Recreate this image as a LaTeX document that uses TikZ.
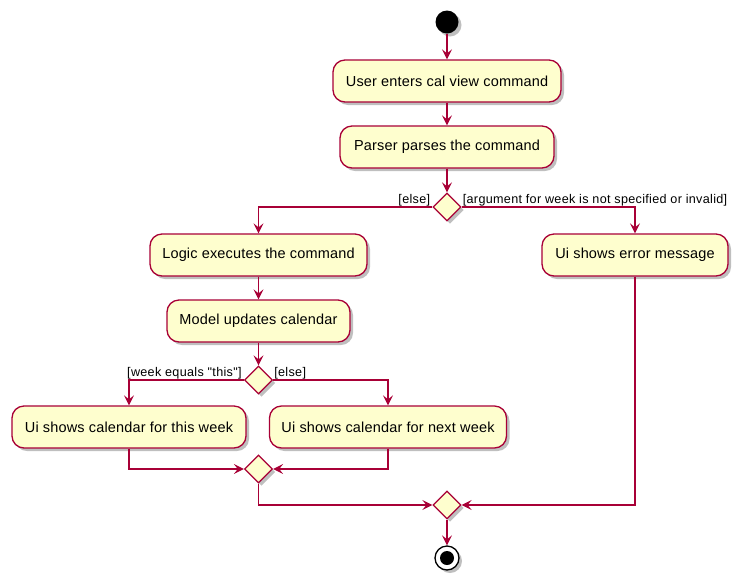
\documentclass[tikz,border=0pt]{standalone}
\usepackage{fontspec}
\setmainfont{Liberation Sans}
\newfontfamily\boxfont[LetterSpace=1.2]{Liberation Sans}
\newfontfamily\lblfont[LetterSpace=2.5]{Liberation Sans}
\usetikzlibrary{arrows.meta,shapes.geometric,shadows}
\definecolor{umlred}{HTML}{A80036}
\definecolor{umlfill}{HTML}{FEFECE}
\tikzset{
  shd/.style={drop shadow={shadow xshift=3pt,shadow yshift=-3pt,fill=black,opacity=0.25}},
  act/.style={draw=umlred,fill=umlfill,line width=1.3pt,rounded corners=12pt,minimum height=42pt,inner xsep=0pt,font=\boxfont\fontsize{14.5}{16}\selectfont,shd},
  dec/.style={diamond,draw=umlred,fill=umlfill,line width=1.3pt,minimum width=28pt,minimum height=28pt,inner sep=0pt,shd},
  flow/.style={draw=umlred,line width=1.3pt,-{Stealth[length=10pt,width=10pt,inset=4pt]}},
  lbl/.style={font=\lblfont\fontsize{12.6}{14}\selectfont,inner sep=0pt}
}
\begin{document}
\begin{tikzpicture}[x=1pt,y=1pt]
\path[use as bounding box] (0,0) rectangle (742,-582);
\node[circle,fill=black,minimum size=23pt,inner sep=0pt,shd] (start) at (447,-22) {};
\node[act,minimum width=228pt] (user) at (447,-81) {User enters cal view command};
\node[act,minimum width=214pt] (parse) at (447,-147) {Parser parses the command};
\node[dec] (d1) at (447,-207) {};
\node[act,minimum width=217pt] (logic) at (258.5,-255) {Logic executes the command};
\node[act,minimum width=186pt] (err) at (635,-255) {Ui shows error message};
\node[act,minimum width=183pt] (model) at (258.5,-321) {Model updates calendar};
\node[dec] (d2) at (258.5,-380) {};
\node[act,minimum width=234pt] (this) at (129,-427) {Ui shows calendar for this week};
\node[act,minimum width=237pt] (next) at (388,-427) {Ui shows calendar for next week};
\node[dec] (m2) at (258.5,-469) {};
\node[dec] (m1) at (447,-505) {};
\node[circle,draw=black,fill=white,line width=1.3pt,minimum size=24pt,inner sep=0pt,shd] (stop) at (447,-558) {};
\node[circle,fill=black,minimum size=14pt,inner sep=0pt] (stopin) at (stop) {};

\draw[flow] (start) -- (user);
\draw[flow] (user) -- (parse);
\draw[flow] (parse) -- (d1);
\draw[flow] (d1.west) -| (logic.north);
\draw[flow] (d1.east) -| (err.north);
\node[lbl,anchor=base east] (l1) at ([xshift=-2pt,yshift=4pt]d1.west) {[else]};
\node[lbl,anchor=base west] (l2) at ([xshift=1pt,yshift=4pt]d1.east) {[argument for week is not specified or invalid]};
\draw[flow] (logic) -- (model);
\draw[flow] (model) -- (d2);
\draw[flow] (d2.west) -| (this.north);
\draw[flow] (d2.east) -| (next.north);
\node[lbl,anchor=base east] (l3) at ([xshift=-2pt,yshift=4pt]d2.west) {[week equals "this"]};
\node[lbl,anchor=base west] (l4) at ([xshift=1pt,yshift=4pt]d2.east) {[else]};
\draw[flow] (this.south) |- (m2.west);
\draw[flow] (next.south) |- (m2.east);
\draw[flow] (m2.south) |- (m1.west);
\draw[flow] (err.south) |- (m1.east);
\draw[flow] (m1) -- (stop);
\end{tikzpicture}
\end{document}
